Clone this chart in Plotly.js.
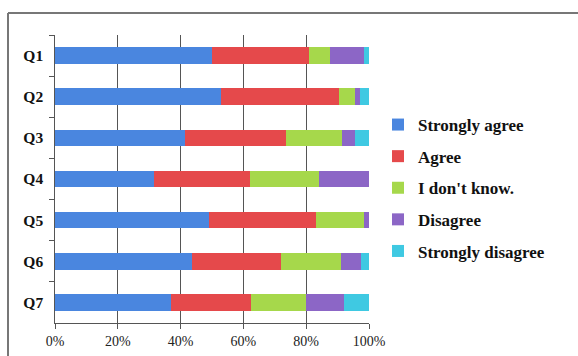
<!DOCTYPE html>
<html>
<head>
<meta charset="utf-8">
<script src="https://cdn.plot.ly/plotly-3.0.1.min.js"></script>
<style>html,body{margin:0;padding:0;background:#fff;}#chart{width:578px;height:356px;}</style>
</head>
<body>
<div id="chart"></div>
<script>
const questions = ["Q1","Q2","Q3","Q4","Q5","Q6","Q7"];
const seriesNames = ["Strongly agree","Agree","I don't know.","Disagree","Strongly disagree"];
const stronglyAgree   = [50, 53, 41.5, 31.5, 49, 43.5, 37];
const agree           = [31, 37.5, 32, 30.5, 34, 28.5, 25.5];
const dontKnow        = [6.5, 5, 18, 22, 15.5, 19, 17.5];
const disagree        = [11, 1.5, 4, 16, 1.5, 6.5, 12];
const stronglyDisagree= [1.5, 3, 4.5, 0, 0, 2.5, 8];
const xTickVals = [0, 20, 40, 60, 80, 100];
const xTickText = ["0%","20%","40%","60%","80%","100%"];
const colors = ["#4A86DF","#E5494B","#A6D84B","#8C66C6","#3FC9E2"];

const values = [stronglyAgree, agree, dontKnow, disagree, stronglyDisagree];
const traces = values.map((v, i) => ({
  type: "bar",
  orientation: "h",
  name: seriesNames[i],
  x: v,
  y: questions,
  marker: {color: colors[i], line: {width: 0}},
  legendgroup: "g" + i,
  hoverinfo: "x+name"
}));

const L = 55, R = 369, T = 35, B = 323;
const px = x => (x - L) / (R - L);
const py = y => (B - y) / (B - T);

const layout = {
  width: 578, height: 356,
  margin: {l: L, r: 578 - R, t: T, b: 356 - B},
  barmode: "stack",
  bargap: 0.6,
  paper_bgcolor: "#fff",
  plot_bgcolor: "#fff",
  font: {family: "Liberation Serif, Times New Roman, serif", color: "#111"},
  xaxis: {
    range: [0, 100],
    tickvals: xTickVals,
    ticktext: xTickText,
    showgrid: true,
    gridcolor: "#555",
    gridwidth: 1,
    zeroline: false,
    showline: true,
    linecolor: "#555",
    linewidth: 1,
    ticks: "outside",
    ticklen: 5,
    tickcolor: "#555",
    tickfont: {size: 14, family: "Liberation Serif, serif", color: "#222"},
    fixedrange: true
  },
  yaxis: {
    type: "category",
    autorange: "reversed",
    showgrid: false,
    showline: true,
    linecolor: "#555",
    linewidth: 1,
    ticks: "outside",
    tickson: "boundaries",
    ticklen: 5,
    tickcolor: "#555",
    ticksuffix: "  ",
    tickfont: {size: 15.5, family: "Liberation Serif, serif", color: "#111", weight: "bold"},
    fixedrange: true
  },
  showlegend: true,
  legend: {
    x: px(378), y: py(107), xanchor: "left", yanchor: "top",
    font: {size: 17, family: "Liberation Serif, serif", color: "#111", weight: "bold"},
    tracegroupgap: 6.5,
    itemwidth: 30,
    bgcolor: "rgba(0,0,0,0)"
  },
  shapes: [
    {type: "line", xref: "paper", yref: "paper", x0: px(8), x1: px(578), y0: py(13), y1: py(13), line: {color: "#777", width: 2}},
    {type: "line", xref: "paper", yref: "paper", x0: px(8), x1: px(8), y0: py(13), y1: py(356), line: {color: "#777", width: 2}}
  ]
};

Plotly.newPlot("chart", traces, layout, {displayModeBar: false, staticPlot: true});
</script>
</body>
</html>
